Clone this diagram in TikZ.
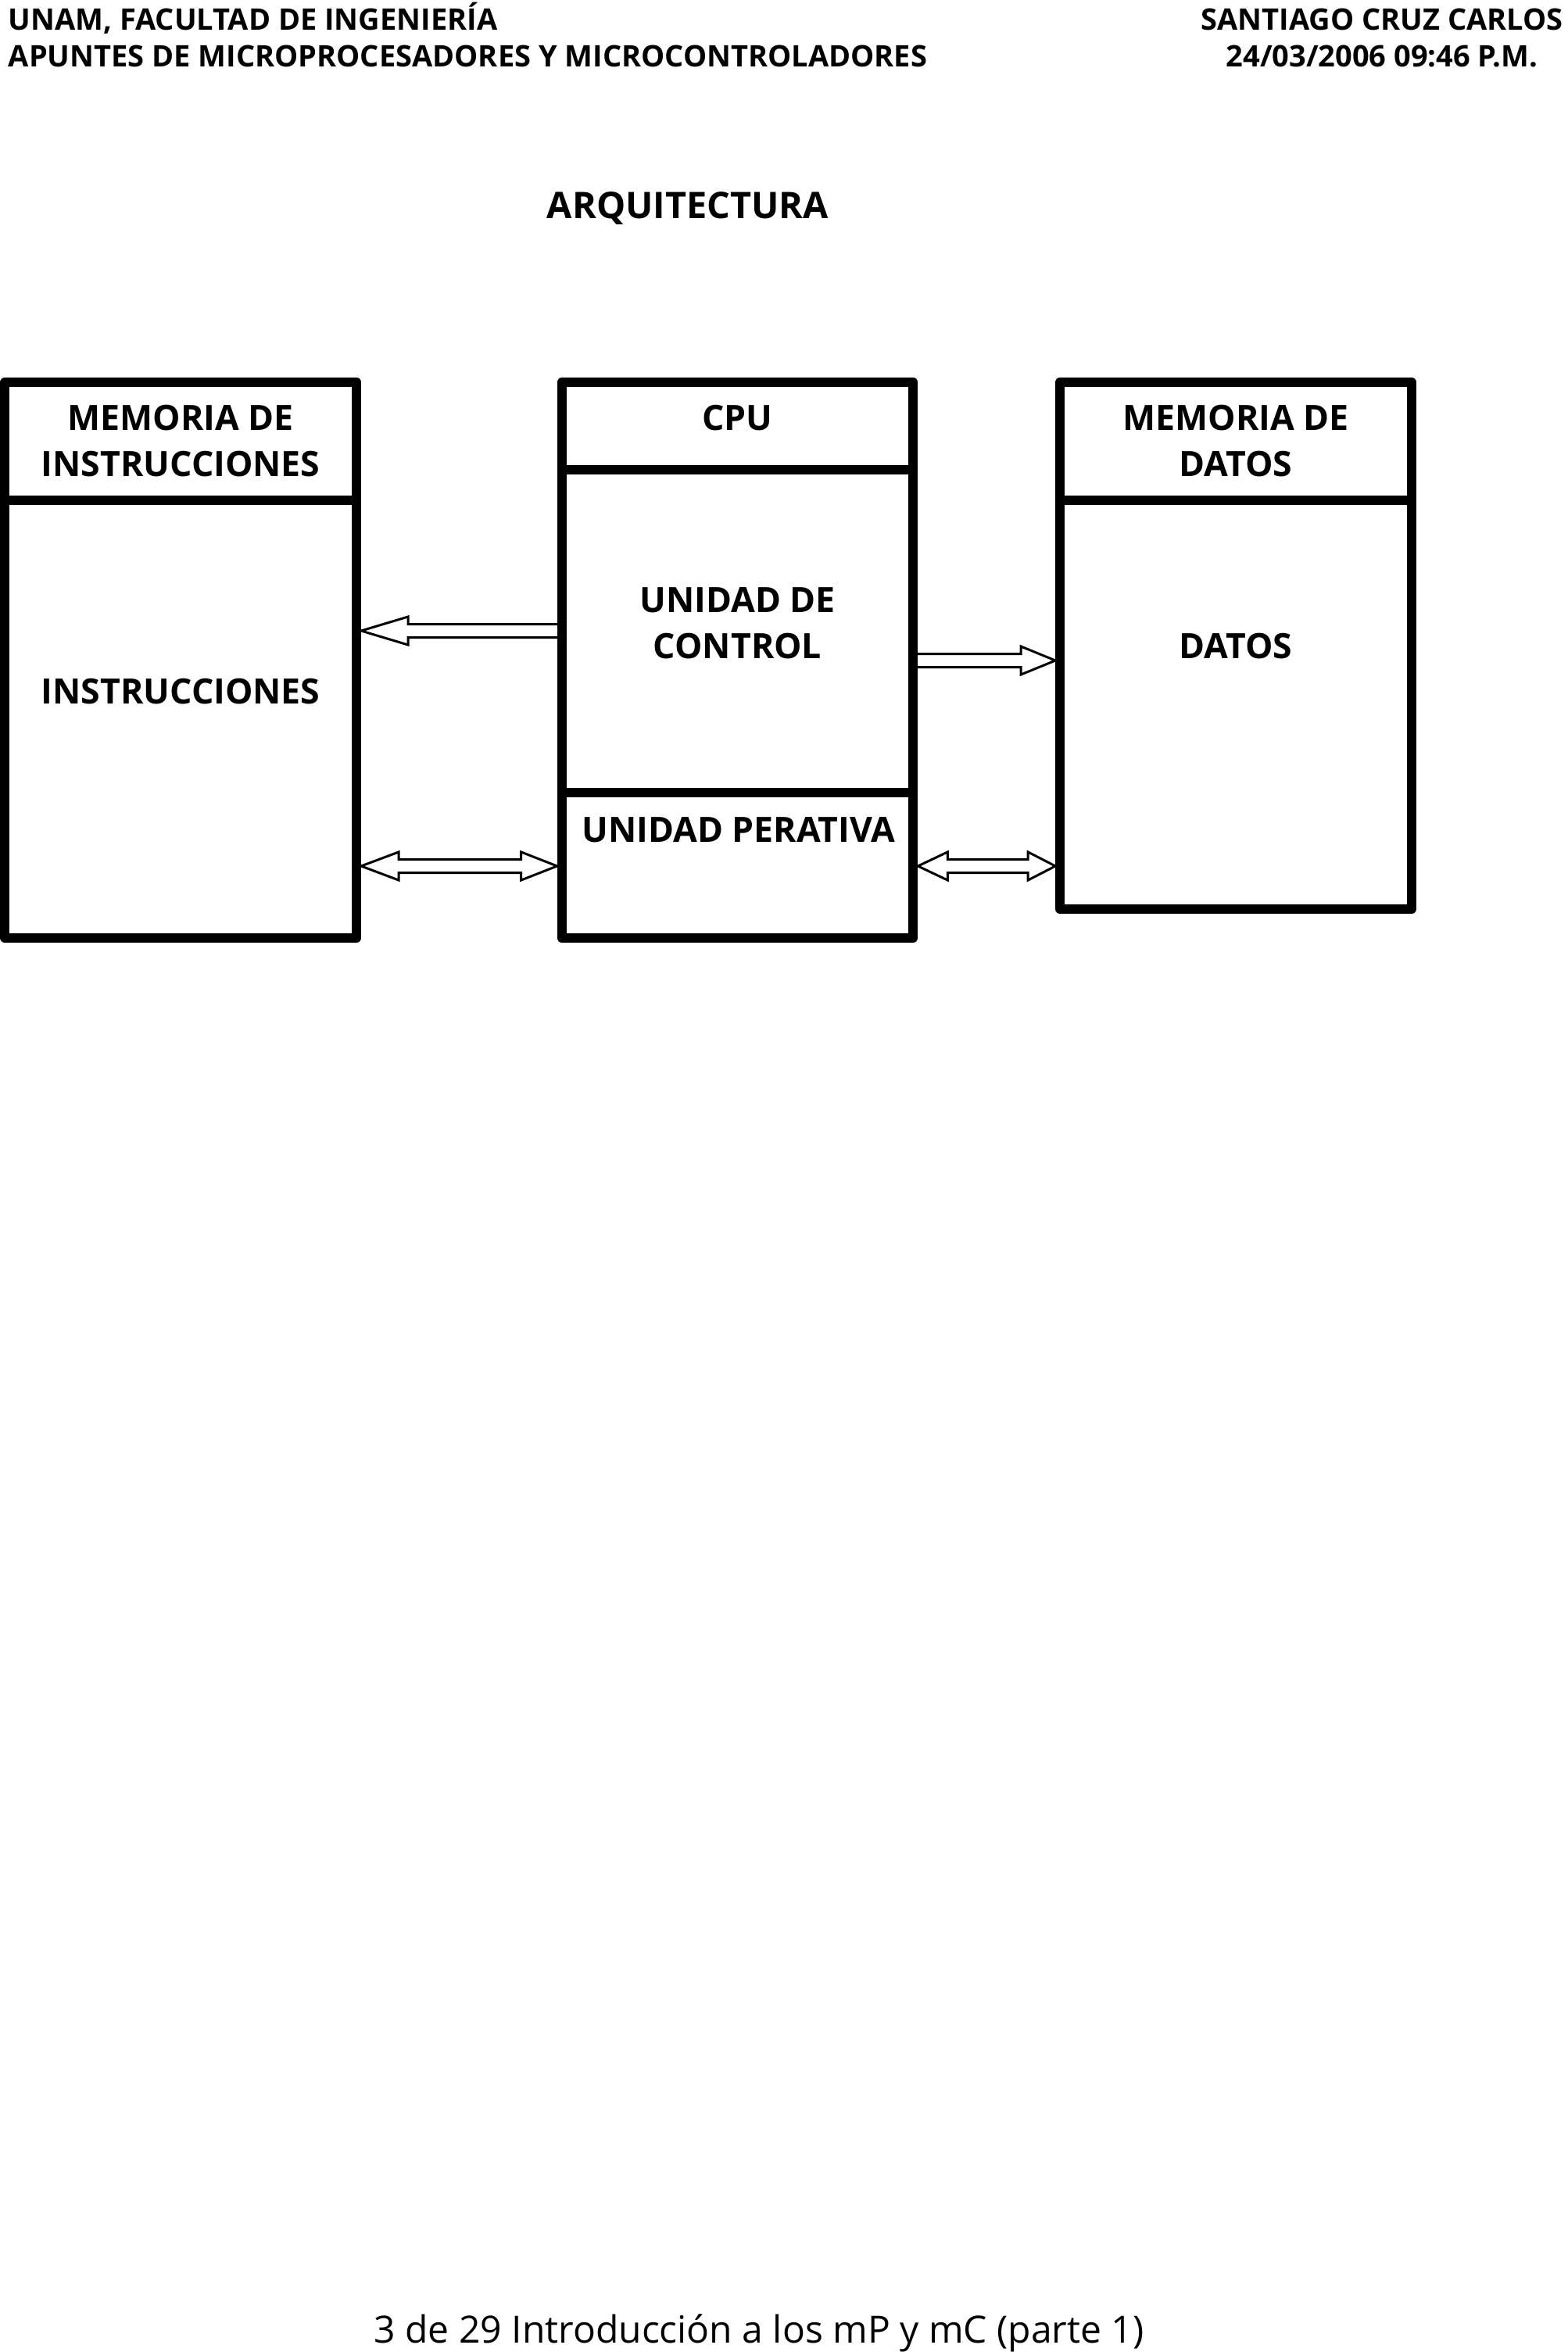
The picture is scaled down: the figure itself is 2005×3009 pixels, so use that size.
\documentclass[tikz,border=0pt]{standalone}
\usepackage{fontspec}
\setmainfont{Open Sans}
\usetikzlibrary{positioning,calc,backgrounds}

\begin{document}
\begin{tikzpicture}[
    x=0.25pt, y=-0.25pt,
    box/.style={draw, rectangle, line width=3pt, line join=round, outer sep=0pt, inner sep=0pt, minimum width=112.4pt},
    boxtext/.style={font=\bfseries\fontsize{11.15}{14.75}\selectfont, align=center, inner sep=0pt, text depth=0pt},
    headtext/.style={font=\bfseries\fontsize{9.5}{11.75}\selectfont, inner sep=0pt},
    bus/.style={draw, fill=white, line width=0.75pt, line join=miter}
  ]
    \path[use as bounding box] (0,0) rectangle (2005,3009);

    % page header and footer
    \node[headtext, anchor=base west] (school) at (10,38) {UNAM, FACULTAD DE INGENIERÍA};
    \node[headtext, anchor=base west] (course) at (10,85) {APUNTES DE MICROPROCESADORES Y MICROCONTROLADORES};
    \node[headtext, anchor=base] (author) at (1768,38) {SANTIAGO CRUZ CARLOS};
    \node[headtext, anchor=base] (date) at (1768,85) {24/03/2006 09:46 P.M.};
    \node[boxtext, anchor=base, font=\bfseries\fontsize{11.7}{14}\selectfont] (title) at (880,279) {ARQUITECTURA};
    \node[font=\fontsize{12}{14}\selectfont, anchor=base, inner sep=0pt] (footer) at (971,2997) {3 de 29 Introducción a los mP y mC (parte 1)};

    % the three blocks
    \node[box, minimum height=37.75pt] (ihead) at (231.25,564.5) {};
    \node[box, minimum height=140pt, below=0pt of ihead] (ibody) {};
    \node[box, minimum height=28pt] (cpuhead) at (943.5,545) {};
    \node[box, minimum height=103.25pt, below=0pt of cpuhead] (ctl) {};
    \node[box, minimum height=46.5pt, below=0pt of ctl] (op) {};
    \node[box, minimum height=37.75pt] (dhead) at (1581,564.5) {};
    \node[box, minimum height=130.75pt, below=0pt of dhead] (dbody) {};

    \node[boxtext] (ihtxt) at (231.25,564) {MEMORIA DE\\INSTRUCCIONES};
    \node[boxtext, anchor=base] (itxt) at (231.25,900) {INSTRUCCIONES};
    \node[boxtext, anchor=base] (cputxt) at (943.5,550) {CPU};
    \node[boxtext] (ctltxt) at (943.5,797) {UNIDAD DE\\CONTROL};
    \node[boxtext, anchor=base] (optxt) at (945,1077) {UNIDAD PERATIVA};
    \node[boxtext] (dhtxt) at (1581,564) {MEMORIA DE\\DATOS};
    \node[boxtext, anchor=base] (dtxt) at (1581,842) {DATOS};

    % buses
    \coordinate (lvlA) at (0,807);
    \coordinate (lvlB) at (0,845);
    \coordinate (lvlC) at (0,1108);
    \def \Buses {
      ibody/ctl/lvlA/60/0,
      ctl/dbody/lvlB/0/44,
      ibody/op/lvlC/48/46,
      op/dbody/lvlC/38/35}

    \begin{pgfonlayer}{background}
      \fill[white] (0,0) rectangle (2005,3009);
      \foreach \src / \dst / \lvl / \hl / \hr in \Buses {
        \pgfmathsetmacro\offl{\hl>0 ? 6 : 0}
        \pgfmathsetmacro\offr{\hr>0 ? 6 : 0}
        \path[bus] ($(\src.east |- \lvl)+(\offl,0)$)
          -- ($(\src.east |- \lvl)+(\offl+\hl,-18)$)
          -- ($(\src.east |- \lvl)+(\offl+\hl,-8.5)$)
          -- ($(\dst.west |- \lvl)+(-\offr-\hr,-8.5)$)
          -- ($(\dst.west |- \lvl)+(-\offr-\hr,-18)$)
          -- ($(\dst.west |- \lvl)+(-\offr,0)$)
          -- ($(\dst.west |- \lvl)+(-\offr-\hr,18)$)
          -- ($(\dst.west |- \lvl)+(-\offr-\hr,8.5)$)
          -- ($(\src.east |- \lvl)+(\offl+\hl,8.5)$)
          -- ($(\src.east |- \lvl)+(\offl+\hl,18)$)
          -- cycle;
      }
    \end{pgfonlayer}
  \end{tikzpicture}
\end{document}
